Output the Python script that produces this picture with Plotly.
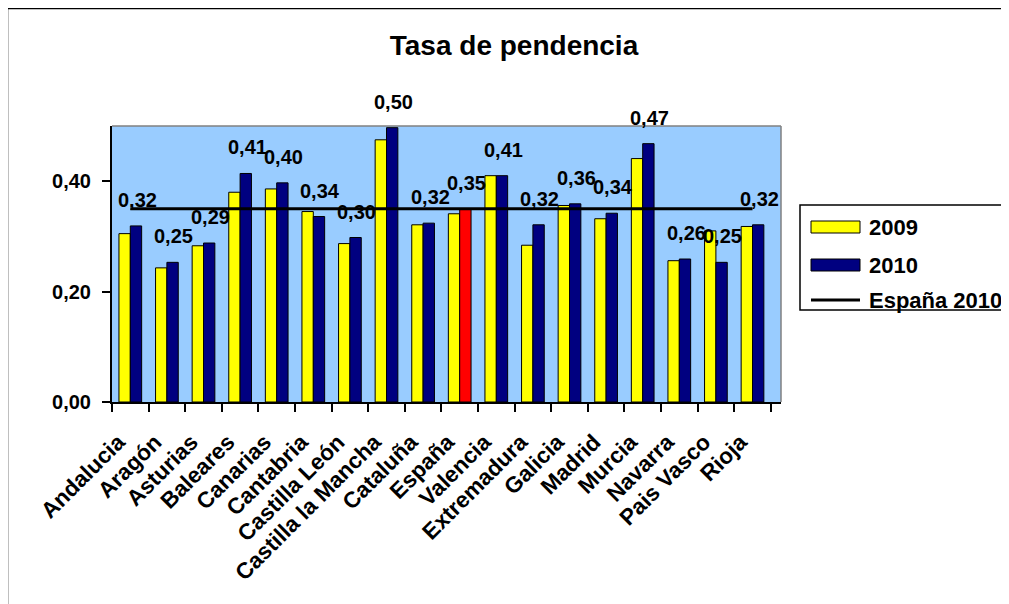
import plotly.graph_objects as go

categories = ["Andalucia", "Aragón", "Asturias", "Baleares", "Canarias", "Cantabria",
              "Castilla León", "Castilla la Mancha", "Cataluña", "España", "Valencia",
              "Extremadura", "Galicia", "Madrid", "Murcia", "Navarra", "Pais Vasco", "Rioja"]
values_2009 = [0.305, 0.243, 0.283, 0.380, 0.386, 0.345, 0.287, 0.475, 0.321, 0.341,
               0.410, 0.284, 0.356, 0.332, 0.441, 0.256, 0.310, 0.318]
values_2010 = [0.319, 0.253, 0.288, 0.414, 0.397, 0.336, 0.298, 0.497, 0.324, 0.349,
               0.410, 0.321, 0.359, 0.342, 0.468, 0.259, 0.253, 0.321]
espana_2010 = 0.35
y_ticks = [0.0, 0.2, 0.4]
title_text = "Tasa de pendencia"
series_names = ["2009", "2010", "España 2010"]

FONT = "Arial, 'Liberation Sans', sans-serif"
W_FIG, H_FIG = 1009, 604
OFF = 8  # page body offset
# target screen geometry of plot area: x 112..781, y 126..402
ML = 112 - OFF
MT = 126 - OFF
PW = 669
PH = 276
MR = W_FIG - ML - PW
MB = H_FIG - MT - PH


def px_x(x):
    return (x - OFF - ML) / PW


def px_y(y):
    return (MT + PH - (y - OFF)) / PH


colors_2010 = ["#FF0000" if c == "España" else "#000080" for c in categories]

fig = go.Figure()
fig.add_trace(go.Bar(x=categories, y=values_2009, name=series_names[0],
                     marker=dict(color="#FFFF00", line=dict(color="black", width=1))))
fig.add_trace(go.Bar(x=categories, y=values_2010, name=series_names[1],
                     marker=dict(color=colors_2010, line=dict(color="black", width=1))))
fig.add_trace(go.Scatter(x=categories, y=[espana_2010] * len(categories), name=series_names[2],
                         mode="lines", line=dict(color="black", width=3)))

annotations = []
for c, v in zip(categories, values_2010):
    annotations.append(dict(x=c, y=v, xref="x", yref="y", text=f"{v:.2f}".replace(".", ","),
                            showarrow=False, xshift=7, yshift=13, yanchor="bottom",
                            font=dict(family=FONT, size=20, color="black", weight="bold")))

shapes = []
# outer chart border
shapes.append(dict(type="rect", xref="paper", yref="paper",
                   x0=px_x(7), x1=px_x(1100), y0=px_y(700), y1=px_y(8),
                   line=dict(color="black", width=2.5), layer="above"))
# plot area top/right grey border
shapes.append(dict(type="line", xref="x domain", yref="y domain", x0=0, x1=1, y0=1, y1=1,
                   line=dict(color="#808080", width=1.5)))
shapes.append(dict(type="line", xref="x domain", yref="y domain", x0=1, x1=1, y0=0, y1=1,
                   line=dict(color="#808080", width=1.5)))
# custom legend
shapes.append(dict(type="rect", xref="paper", yref="paper",
                   x0=px_x(800), x1=px_x(1040), y0=px_y(310), y1=px_y(205),
                   line=dict(color="black", width=1.5), fillcolor="white"))
shapes.append(dict(type="rect", xref="paper", yref="paper",
                   x0=px_x(811), x1=px_x(860), y0=px_y(233), y1=px_y(221),
                   line=dict(color="black", width=1), fillcolor="#FFFF00"))
shapes.append(dict(type="rect", xref="paper", yref="paper",
                   x0=px_x(811), x1=px_x(860), y0=px_y(271), y1=px_y(259),
                   line=dict(color="black", width=1), fillcolor="#000080"))
shapes.append(dict(type="line", xref="paper", yref="paper",
                   x0=px_x(811), x1=px_x(860), y0=px_y(300), y1=px_y(300),
                   line=dict(color="black", width=3)))
for name, yy in zip(series_names, [227, 265, 300]):
    annotations.append(dict(x=px_x(867), y=px_y(yy), xref="paper", yref="paper", text=name,
                            showarrow=False, xanchor="left", yanchor="middle",
                            font=dict(family=FONT, size=22, color="black", weight="bold")))

fig.update_layout(
    width=W_FIG, height=H_FIG,
    margin=dict(l=ML, r=MR, t=MT, b=MB),
    paper_bgcolor="white", plot_bgcolor="#99CCFF",
    separators=",.",
    showlegend=False,
    barmode="group", bargap=0.38, bargroupgap=0,
    font=dict(family=FONT, color="black"),
    title=dict(text=title_text, x=(514 - OFF) / W_FIG, xref="container", xanchor="center",
               y=1 - (45 - OFF) / H_FIG, yref="container", yanchor="middle",
               font=dict(family=FONT, size=28, color="black", weight="bold")),
    xaxis=dict(showline=True, linecolor="black", linewidth=2, ticks="outside",
               tickson="boundaries", ticklen=8, tickwidth=2, tickcolor="black",
               tickangle=-45, showgrid=False, ticklabelstandoff=16, ticklabelshift=-12,
               tickfont=dict(family=FONT, size=22.5, color="black", weight="bold")),
    yaxis=dict(range=[0, 0.5], showline=True, linecolor="black", linewidth=2,
               ticks="outside", ticklen=8, tickwidth=2, tickcolor="black",
               tickvals=y_ticks, tickformat=".2f", showgrid=False, zeroline=False,
               ticklabelstandoff=7,
               tickfont=dict(family=FONT, size=20, color="black", weight="bold")),
    shapes=shapes, annotations=annotations,
)

fig.write_html("out.html")
